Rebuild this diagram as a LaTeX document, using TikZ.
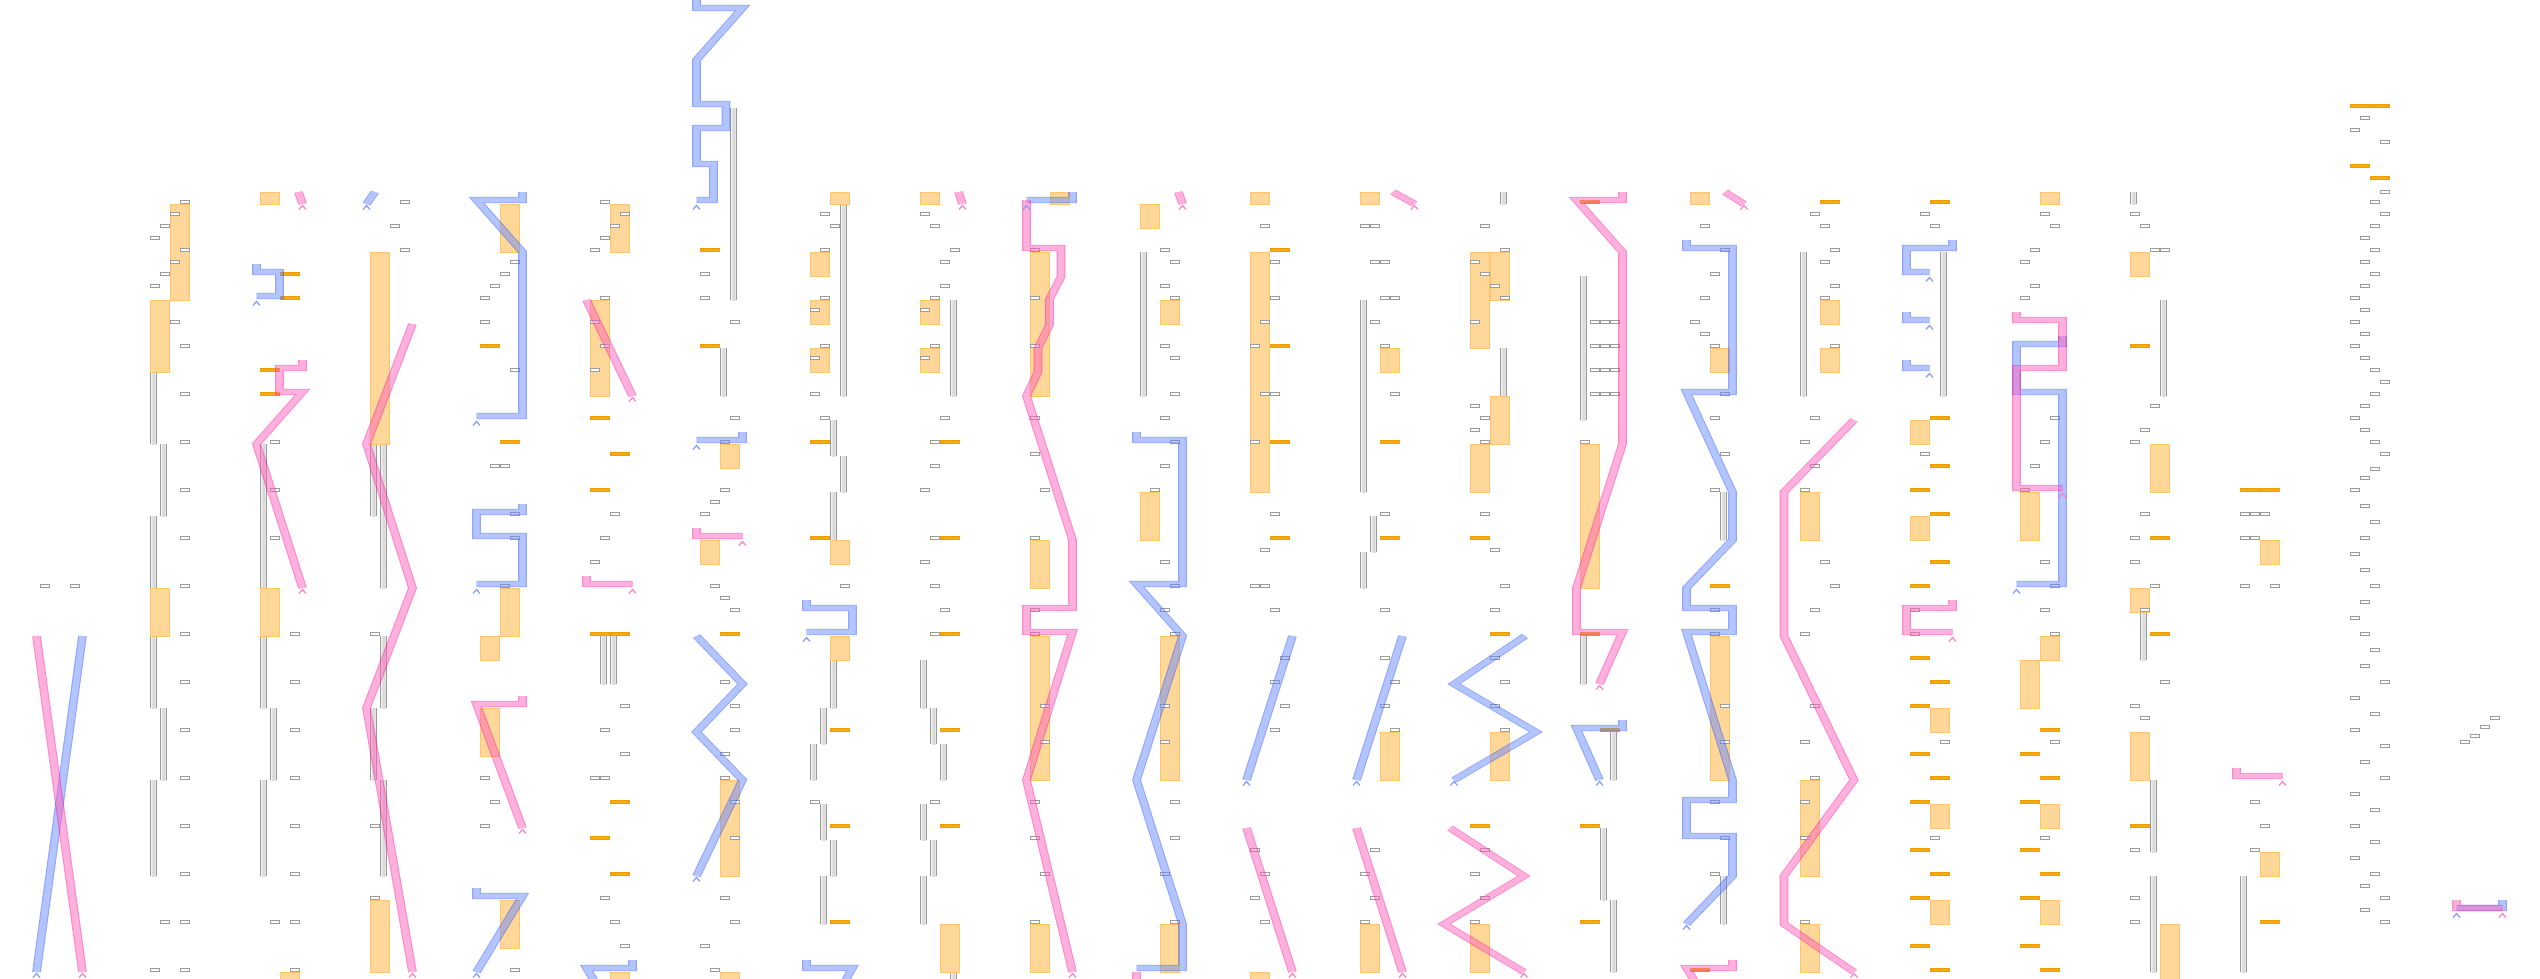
\documentclass[tikz,border=0pt]{standalone}
\definecolor{boxgray}{HTML}{9C9C9C}
\definecolor{barfill}{HTML}{F6AC0C}
\definecolor{baredge}{HTML}{EE9E00}
\definecolor{blockfill}{HTML}{FFD899}
\definecolor{blockedge}{HTML}{FFC56A}
\definecolor{railgray}{HTML}{9A9A9A}
\definecolor{railmid}{HTML}{D2D2D2}
\definecolor{blueedge}{HTML}{1F4FFF}
\definecolor{bluecore}{HTML}{6A8AFF}
\definecolor{pinkedge}{HTML}{FF1199}
\definecolor{pinkcore}{HTML}{FF61B9}
\definecolor{bluechev}{HTML}{7F9BFF}
\definecolor{pinkchev}{HTML}{FF7FC6}
\begin{document}
\begin{tikzpicture}[
		x=1pt, y=-1pt,
		cell/.style = {draw=boxgray, fill=white, line width=0.8pt},
		bar/.style = {draw=baredge, fill=barfill, line width=0.6pt},
		block/.style = {draw=blockedge, fill=blockfill, line width=0.8pt},
		railcore/.style = {left color=white, right color=white, middle color=railmid},
		railline/.style = {draw=railgray, line width=1.3pt},
		band/.style = {transparency group, opacity=0.5},
		ribbon/.style = {x=0.714286pt, transform canvas={xscale=1.4}},
		blueband/.style = {
			line width=4.6pt, draw=bluecore, line join=miter,
			preaction={draw=blueedge, line width=6.2pt}
		},
		pinkband/.style = {
			line width=4.6pt, draw=pinkcore, line join=miter,
			preaction={draw=pinkedge, line width=6.2pt}
		},
		bluetip/.style = {draw=bluechev, line width=1.2pt},
		pinktip/.style = {draw=pinkchev, line width=1.2pt}
	]
	\useasboundingbox (0,0) rectangle (2540,978);

	% rails
	\foreach \x/\a/\b in {150/30/36, 160/36/42, 150/42/48, 150/52/58, 160/58/64, 150/64/72,
			260/36/48, 260/52/58, 270/58/64, 260/64/72,
			370/36/42, 380/36/48, 380/52/58, 370/58/64, 380/64/72,
			600/52/56, 610/52/56, 730/8/24, 720/28/32,
			840/16/32, 830/34/37, 840/37/40, 830/40/44, 830/54/58, 820/58/61, 810/61/64,
			820/66/69, 830/69/72, 820/72/76,
			950/24/32, 920/54/58, 930/58/61, 940/61/64, 920/66/69, 930/69/72, 920/72/76, 950/80/81,
			1140/20/32, 1360/24/40, 1370/42/45, 1360/45/48,
			1500/15/16, 1500/28/32,
			1580/22/34, 1580/52/56, 1610/60/64, 1600/68/74, 1610/74/80,
			1720/40/44, 1720/72/76, 1800/20/32, 1940/20/32,
			2130/15/16, 2160/24/32, 2140/50/54, 2150/64/70, 2150/72/80, 2240/72/80}{
		\shade[railcore] (\x,{12*\a+12}) rectangle (\x+7,{12*\b+12});
		\draw[railline] (\x+0.7,{12*\a+12}) -- (\x+0.7,{12*\b+12})
			(\x+6.3,{12*\a+12}) -- (\x+6.3,{12*\b+12});
	}

	% orange blocks
	\foreach \x/\a/\b in {170/16/24, 150/24/30, 150/48/52,
			260/15/16, 260/48/52, 280/80/81, 370/20/36, 370/74/80,
			500/16/20, 500/48/52, 480/52/54, 480/58/62, 500/74/78,
			610/16/20, 590/24/32, 610/80/81,
			720/36/38, 700/44/46, 720/64/72, 720/80/81,
			830/15/16, 810/20/22, 810/24/26, 810/28/30, 830/44/46, 830/52/54,
			920/15/16, 920/24/26, 920/28/30, 940/76/80,
			1050/15/16, 1030/20/32, 1030/44/48, 1030/52/64, 1030/76/80,
			1140/16/18, 1160/24/26, 1140/40/44, 1160/52/64, 1160/76/80,
			1250/15/16, 1250/20/40, 1250/80/81,
			1360/15/16, 1380/28/30, 1380/60/64, 1360/76/80,
			1470/20/28, 1490/20/24, 1490/32/36, 1470/36/40, 1490/60/64, 1470/76/80,
			1580/36/48, 1690/15/16, 1710/28/30, 1710/52/64,
			1820/24/26, 1820/28/30, 1800/40/44, 1800/64/72, 1800/76/80,
			1910/34/36, 1910/42/44, 1930/58/60, 1930/66/68, 1930/74/76,
			2040/15/16, 2020/40/44, 2040/52/54, 2020/54/58, 2040/66/68, 2040/74/76,
			2130/20/22, 2150/36/40, 2130/48/50, 2130/60/64, 2160/76/81,
			2260/44/46, 2260/70/72}{
		\draw[block] (\x,{12*\a+12}) rectangle (\x+19,{12*\b+12});
	}

	% small cells
	\foreach \x/\r in {40/48, 70/48,
			180/16, 170/17, 160/18, 150/19, 180/20, 170/21, 160/22, 150/23, 170/26, 180/28,
			180/32, 180/36, 180/40, 180/44, 180/48, 180/52, 180/56, 180/60, 180/64, 180/68,
			180/72, 160/76, 180/76, 150/80, 180/80,
			270/36, 270/40, 270/44, 290/52, 290/56, 290/60, 290/64, 290/68, 290/72, 270/76,
			290/76, 290/80,
			400/16, 390/18, 400/20, 370/52, 370/68, 370/74,
			510/21, 500/22, 490/23, 480/24, 480/26, 510/30, 490/38, 500/38, 510/42, 510/44,
			500/48, 480/64, 490/66, 480/68, 510/80,
			600/16, 620/17, 610/18, 600/19, 590/20, 600/24, 590/26, 600/28, 590/30, 610/42,
			600/44, 590/46, 620/58, 600/60, 620/62, 590/64, 600/64, 600/74, 610/76, 620/78,
			700/22, 700/24, 730/26, 730/34, 720/36, 720/40, 710/41, 700/42, 710/48, 720/49,
			730/50, 720/56, 730/58, 730/60, 720/62, 720/64, 730/66, 730/69, 720/74, 730/76,
			700/78, 710/80,
			820/17, 830/18, 820/20, 820/24, 810/25, 820/28, 810/29, 810/32, 820/34, 840/48,
			810/66,
			920/17, 930/18, 950/20, 940/21, 940/23, 930/24, 920/25, 930/28, 920/29, 940/34,
			930/36, 930/38, 920/40, 930/44, 920/46, 930/48, 940/50, 930/52, 930/66,
			1030/20, 1030/24, 1030/28, 1030/34, 1030/37, 1040/40, 1030/44, 1030/50, 1030/52,
			1040/58, 1040/61, 1030/66, 1030/69, 1040/72, 1030/76,
			1160/20, 1170/21, 1160/23, 1170/24, 1160/28, 1170/29, 1170/32, 1160/34, 1170/36,
			1160/38, 1150/40, 1160/46, 1170/48, 1160/50, 1170/52, 1160/58, 1160/61, 1170/66,
			1170/69, 1160/72, 1170/76,
			1260/18, 1270/21, 1270/24, 1260/26, 1250/28, 1260/32, 1270/32, 1250/36, 1270/42,
			1260/45, 1250/48, 1260/48, 1270/50, 1280/54, 1270/56, 1280/58, 1270/60, 1250/70,
			1260/72, 1250/74, 1260/76,
			1360/18, 1370/18, 1370/21, 1380/21, 1380/24, 1390/24, 1370/26, 1380/28, 1390/32,
			1380/42, 1380/50, 1380/54, 1390/56, 1380/58, 1390/60, 1370/70, 1360/72, 1370/74,
			1360/76,
			1480/18, 1500/20, 1470/21, 1480/22, 1490/23, 1500/24, 1470/26, 1470/33, 1480/34,
			1470/35, 1480/36, 1480/42, 1490/45, 1500/48, 1490/50, 1490/54, 1500/56, 1490/58,
			1500/60, 1480/70, 1470/72, 1480/74, 1470/76,
			1590/26, 1600/26, 1610/26, 1590/28, 1600/28, 1610/28, 1590/30, 1600/30, 1610/30,
			1590/32, 1600/32, 1610/32, 1580/36,
			1700/18, 1720/20, 1710/22, 1700/24, 1690/26, 1700/27, 1710/28, 1720/32, 1710/34,
			1720/37, 1710/40, 1710/50, 1710/52, 1720/58, 1720/61, 1710/66, 1720/69, 1710/72,
			1810/17, 1820/18, 1830/20, 1820/21, 1830/23, 1820/24, 1830/28, 1810/34, 1800/36,
			1810/38, 1800/40, 1820/46, 1830/48, 1810/50, 1800/52, 1810/58, 1800/61, 1810/64,
			1800/66, 1800/69, 1800/76,
			1920/17, 1930/18, 1920/37, 1910/50, 1910/52, 1940/61, 1930/69,
			2040/17, 2050/18, 2030/20, 2020/21, 2030/23, 2020/24, 2050/34, 2040/36, 2030/38,
			2020/40, 2040/46, 2050/48, 2040/50, 2050/52, 2050/61, 2040/69,
			2130/17, 2140/18, 2150/20, 2160/20, 2150/33, 2140/35, 2130/36, 2140/42, 2130/44,
			2130/46, 2150/48, 2140/50, 2160/56, 2130/58, 2140/59, 2130/70, 2130/74, 2130/76,
			2240/42, 2250/42, 2260/42, 2240/44, 2250/44, 2240/48, 2270/48, 2250/66, 2260/68,
			2250/70}{
		\draw[cell] (\x,{12*\r+8.5}) rectangle ++(9,3);
	}
	% last two columns, free spacing
	\foreach \x/\y in {2360/118, 2350/130, 2380/142, 2380/192, 2370/202, 2380/214, 2370/226,
			2360/238, 2370/250, 2360/262, 2370/274, 2360/286, 2350/298, 2360/310, 2350/322,
			2360/334, 2350/346, 2360/358, 2370/370, 2380/382, 2370/394, 2360/406, 2350/418,
			2360/430, 2370/442, 2380/454, 2370/469, 2360/478, 2350/490, 2360/506, 2370/522,
			2360/538, 2350/554, 2360/570, 2370/586, 2360/602, 2350/618, 2360/634, 2370/650,
			2360/666, 2380/682, 2350/698, 2370/714, 2350/730, 2380/746, 2360/762, 2380/778,
			2350/794, 2370/810, 2350/826, 2370/842, 2350/858, 2370/874, 2360/886, 2380/898,
			2360/910, 2380/922,
			2490/718, 2480/727, 2470/736, 2460/742}{
		\draw[cell] (\x,\y-1.5) rectangle ++(9,3);
	}

	% orange bars
	\foreach \x/\r in {280/22, 280/24, 260/30, 260/32, 480/28, 500/36,
			590/34, 610/37, 590/40, 590/52, 610/52, 610/66, 590/69, 610/72,
			700/20, 700/28, 720/52, 810/36, 810/44, 830/60, 830/68, 830/76,
			940/36, 940/44, 940/52, 940/60, 940/68,
			1270/20, 1270/28, 1270/36, 1270/44, 1380/36, 1380/44,
			1470/44, 1490/52, 1470/68, 1580/16, 1580/52, 1600/60, 1580/68, 1580/76,
			1710/48, 1690/80, 1820/16,
			1930/16, 1930/34, 1930/38, 1910/40, 1930/42, 1930/46, 1910/48, 1910/54, 1930/56,
			1910/58, 1910/62, 1930/64, 1910/66, 1910/70, 1930/72, 1910/74, 1910/78, 1930/80,
			2040/60, 2020/62, 2040/64, 2020/66, 2020/70, 2040/72, 2020/74, 2020/78, 2040/80,
			2130/28, 2150/44, 2150/52, 2130/68, 2240/40, 2260/40, 2260/76,
			2350/8, 2370/8, 2350/13, 2370/14}{
		\draw[bar] (\x,{12*\r+8.5}) rectangle ++(19,3);
	}

	\begin{scope}[ribbon]
	% blue bands
	\begin{scope}[band]
		\draw[blueband] (82.5,636) -- (36.5,972);
	\end{scope}
	\begin{scope}[band]
		\draw[blueband] (256.5,264) -- (256.5,272) -- (279.5,272) -- (279.5,296) -- (256.5,296);
	\end{scope}
	\begin{scope}[band]
		\draw[blueband] (375,192) -- (366.5,204);
	\end{scope}
	\begin{scope}[band]
		\draw[blueband] (522.5,192) -- (522.5,200) -- (476.5,200) -- (522.5,252) -- (522.5,416) -- (476.5,416);
	\end{scope}
	\begin{scope}[band]
		\draw[blueband] (522.5,504) -- (522.5,512) -- (476.5,512) -- (476.5,536) -- (522.5,536)
			-- (522.5,584) -- (476.5,584);
	\end{scope}
	\begin{scope}[band]
		\draw[blueband] (476.5,888) -- (476.5,896) -- (522.5,896) -- (476.5,972);
	\end{scope}
	\begin{scope}[band]
		\draw[blueband] (632.5,960) -- (632.5,968) -- (586.5,968) -- (600,990);
	\end{scope}
	\begin{scope}[band]
		\draw[blueband] (696.5,-5) -- (696.5,8) -- (742.5,8) -- (696.5,60) -- (696.5,104) -- (726,104)
			-- (726,128) -- (696.5,128) -- (696.5,164) -- (713.5,164) -- (713.5,200) -- (696.5,200);
	\end{scope}
	\begin{scope}[band]
		\draw[blueband] (742.5,432) -- (742.5,440) -- (696.5,440);
	\end{scope}
	\begin{scope}[band]
		\draw[blueband] (696.5,636) -- (742.5,684) -- (696.5,732) -- (742.5,780) -- (696.5,876);
	\end{scope}
	\begin{scope}[band]
		\draw[blueband] (806.5,600) -- (806.5,608) -- (852.5,608) -- (852.5,632) -- (806.5,632);
	\end{scope}
	\begin{scope}[band]
		\draw[blueband] (806.5,960) -- (806.5,968) -- (852.5,968) -- (840,990);
	\end{scope}
	\begin{scope}[band]
		\draw[blueband] (1072.5,192) -- (1072.5,200) -- (1026.5,200);
	\end{scope}
	\begin{scope}[band]
		\draw[blueband] (1136.5,432) -- (1136.5,440) -- (1182.5,440) -- (1182.5,584) -- (1136.5,584)
			-- (1182.5,636) -- (1136.5,780) -- (1182.5,924) -- (1182.5,968) -- (1136.5,968);
	\end{scope}
	\begin{scope}[band]
		\draw[blueband] (1292.5,636) -- (1246.5,780);
	\end{scope}
	\begin{scope}[band]
		\draw[blueband] (1402.5,636) -- (1356.5,780);
	\end{scope}
	\begin{scope}[band]
		\draw[blueband] (1525,636) -- (1454,684) -- (1536,732) -- (1454,780);
	\end{scope}
	\begin{scope}[band]
		\draw[blueband] (1622.5,720) -- (1622.5,728) -- (1576.5,728) -- (1599.5,780);
	\end{scope}
	\begin{scope}[band]
		\draw[blueband] (1686.5,240) -- (1686.5,248) -- (1732.5,248) -- (1732.5,392) -- (1686.5,392)
			-- (1732.5,492) -- (1732.5,540) -- (1686.5,588) -- (1686.5,608) -- (1732.5,608)
			-- (1732.5,632) -- (1686.5,632) -- (1732.5,780) -- (1732.5,800) -- (1686.5,800)
			-- (1686.5,836) -- (1732.5,836) -- (1732.5,876) -- (1686.5,924);
	\end{scope}
	\begin{scope}[band]
		\draw[blueband] (1952.5,240) -- (1952.5,248) -- (1906.5,248) -- (1906.5,272) -- (1929.5,272);
	\end{scope}
	\begin{scope}[band]
		\draw[blueband] (1906.5,312) -- (1906.5,320) -- (1929.5,320);
	\end{scope}
	\begin{scope}[band]
		\draw[blueband] (1906.5,360) -- (1906.5,368) -- (1929.5,368);
	\end{scope}
	\begin{scope}[band]
		\draw[blueband] (2062.5,336) -- (2062.5,344) -- (2016.5,344) -- (2016.5,392) -- (2062.5,392)
			-- (2062.5,584) -- (2016.5,584);
	\end{scope}
	\begin{scope}[band]
		\draw[blueband] (2502.5,900) -- (2502.5,908) -- (2456.5,908);
	\end{scope}

	% pink bands
	\begin{scope}[band]
		\draw[pinkband] (36.5,636) -- (82.5,972);
	\end{scope}
	\begin{scope}[band]
		\draw[pinkband] (298.5,192) -- (302.5,204);
	\end{scope}
	\begin{scope}[band]
		\draw[pinkband] (302.5,360) -- (302.5,368) -- (279.5,368) -- (279.5,392) -- (302.5,392)
			-- (256.5,444) -- (302.5,588);
	\end{scope}
	\begin{scope}[band]
		\draw[pinkband] (412.5,324) -- (366.5,444) -- (412.5,588) -- (366.5,708) -- (412.5,972);
	\end{scope}
	\begin{scope}[band]
		\draw[pinkband] (522.5,696) -- (522.5,704) -- (476.5,704) -- (522.5,828);
	\end{scope}
	\begin{scope}[band]
		\draw[pinkband] (586.5,300) -- (632.5,396);
	\end{scope}
	\begin{scope}[band]
		\draw[pinkband] (586.5,576) -- (586.5,584) -- (632.5,584);
	\end{scope}
	\begin{scope}[band]
		\draw[pinkband] (696.5,528) -- (696.5,536) -- (742.5,536);
	\end{scope}
	\begin{scope}[band]
		\draw[pinkband] (958.5,192) -- (962.5,204);
	\end{scope}
	\begin{scope}[band]
		\draw[pinkband] (1026.5,200) -- (1026.5,248) -- (1061,248) -- (1061,277) -- (1049.5,299)
			-- (1049.5,325) -- (1038,348) -- (1038,372) -- (1026.5,396) -- (1072.5,540)
			-- (1072.5,608) -- (1026.5,608) -- (1026.5,632) -- (1072.5,632) -- (1026.5,780)
			-- (1072.5,972);
	\end{scope}
	\begin{scope}[band]
		\draw[pinkband] (1178.5,192) -- (1182.5,204);
	\end{scope}
	\begin{scope}[band]
		\draw[pinkband] (1136.5,972) -- (1136.5,990);
	\end{scope}
	\begin{scope}[band]
		\draw[pinkband] (1246.5,828) -- (1292.5,972);
	\end{scope}
	\begin{scope}[band]
		\draw[pinkband] (1393,192) -- (1414.5,204);
	\end{scope}
	\begin{scope}[band]
		\draw[pinkband] (1356.5,828) -- (1402.5,972);
	\end{scope}
	\begin{scope}[band]
		\draw[pinkband] (1450,828) -- (1524,876) -- (1444,924) -- (1524,972);
	\end{scope}
	\begin{scope}[band]
		\draw[pinkband] (1622.5,192) -- (1622.5,200) -- (1576.5,200) -- (1622.5,252) -- (1622.5,444)
			-- (1576.5,588) -- (1576.5,632) -- (1622.5,632) -- (1599.5,684);
	\end{scope}
	\begin{scope}[band]
		\draw[pinkband] (1725,192) -- (1744,204);
	\end{scope}
	\begin{scope}[band]
		\draw[pinkband] (1732.5,960) -- (1732.5,968) -- (1686.5,968) -- (1700,990);
	\end{scope}
	\begin{scope}[band]
		\draw[pinkband] (1854,420) -- (1784,492) -- (1784,636) -- (1854,780) -- (1784,876)
			-- (1784,924) -- (1854,972);
	\end{scope}
	\begin{scope}[band]
		\draw[pinkband] (1952.5,600) -- (1952.5,608) -- (1906.5,608) -- (1906.5,632) -- (1952.5,632);
	\end{scope}
	\begin{scope}[band]
		\draw[pinkband] (2016.5,312) -- (2016.5,320) -- (2062.5,320) -- (2062.5,368) -- (2016.5,368)
			-- (2016.5,488) -- (2062.5,488);
	\end{scope}
	\begin{scope}[band]
		\draw[pinkband] (2236.5,768) -- (2236.5,776) -- (2282.5,776);
	\end{scope}
	\begin{scope}[band]
		\draw[pinkband] (2456.5,900) -- (2456.5,908) -- (2502.5,908);
	\end{scope}
	\end{scope}

	% end marks under the bands
	\foreach \x/\y in {36.5/973.5, 256.5/301.5, 366.5/205.5, 476.5/421.5, 476.5/589.5,
			476.5/973.5, 696.5/205.5, 696.5/445.5, 696.5/877.5, 806.5/637.5, 1026.5/205.5,
			1246.5/781.5, 1356.5/781.5, 1454/781.5, 1599.5/781.5, 1686.5/925.5,
			1929.5/277.5, 1929.5/325.5, 1929.5/373.5, 2016.5/589.5, 2456.5/913.5}{
		\draw[bluetip] (\x-3.5,\y+4) -- (\x,\y) -- (\x+3.5,\y+4);
	}
	\foreach \x/\y in {82.5/973.5, 302.5/205.5, 302.5/589.5, 412.5/973.5, 522.5/829.5,
			632.5/397.5, 632.5/589.5, 742.5/541.5, 962.5/205.5, 1072.5/973.5, 1182.5/205.5,
			1292.5/973.5, 1414.5/205.5, 1402.5/973.5, 1524/973.5, 1599.5/685.5, 1744/205.5,
			1854/973.5, 1952.5/637.5, 2062.5/493.5, 2282.5/781.5, 2502.5/913.5}{
		\draw[pinktip] (\x-3.5,\y+4) -- (\x,\y) -- (\x+3.5,\y+4);
	}
\end{tikzpicture}
\end{document}
